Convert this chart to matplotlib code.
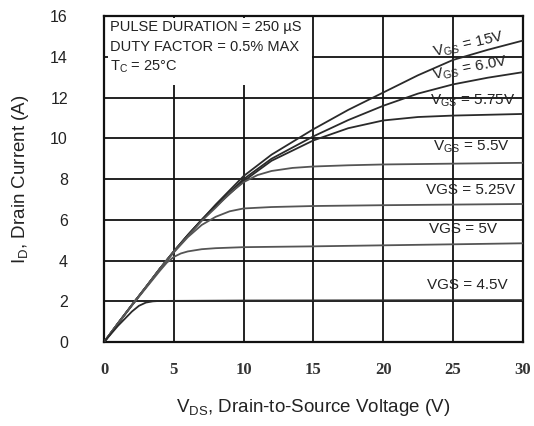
import matplotlib
matplotlib.use("Agg")
import matplotlib.pyplot as plt
from matplotlib.patches import Rectangle

# ---- data ----
v_15 = [0, 1, 2, 3, 4, 5, 6, 7, 8, 10, 12, 15, 17.5, 20, 22.5, 25, 27.5, 30]
i_15 = [0, 0.92, 1.82, 2.7, 3.6, 4.45, 5.25, 6.0, 6.75, 8.15, 9.2, 10.45, 11.4, 12.25, 13.1, 13.85, 14.35, 14.8]

v_60 = [0, 1, 2, 3, 4, 5, 6, 7, 8, 10, 12, 15, 17.5, 20, 22.5, 25, 27.5, 30]
i_60 = [0, 0.92, 1.82, 2.7, 3.6, 4.45, 5.25, 6.0, 6.7, 8.0, 9.0, 10.1, 10.9, 11.6, 12.2, 12.65, 12.98, 13.25]

v_575 = [0, 1, 2, 3, 4, 5, 6, 7, 8, 10, 12, 15, 17.5, 20, 22.5, 25, 27.5, 30]
i_575 = [0, 0.92, 1.82, 2.7, 3.6, 4.45, 5.25, 6.0, 6.65, 7.9, 8.9, 9.9, 10.5, 10.88, 11.05, 11.12, 11.16, 11.2]

v_55 = [0, 1, 2, 3, 4, 5, 6, 7, 8, 9, 10, 11, 12, 13.5, 15, 17.5, 20, 25, 30]
i_55 = [0, 0.92, 1.82, 2.7, 3.6, 4.45, 5.2, 5.95, 6.6, 7.3, 7.85, 8.2, 8.4, 8.55, 8.62, 8.68, 8.72, 8.76, 8.8]

v_525 = [0, 1, 2, 3, 4, 5, 6, 7, 8, 9, 10, 12, 15, 20, 25, 30]
i_525 = [0, 0.92, 1.82, 2.7, 3.6, 4.4, 5.15, 5.75, 6.15, 6.42, 6.56, 6.63, 6.68, 6.72, 6.75, 6.78]

v_50 = [0, 1, 2, 3, 4, 4.5, 5, 5.5, 6, 7, 8, 10, 15, 20, 25, 30]
i_50 = [0, 0.9, 1.8, 2.65, 3.5, 3.9, 4.18, 4.35, 4.45, 4.56, 4.61, 4.66, 4.7, 4.75, 4.8, 4.85]

v_45 = [0, 1, 1.5, 2, 2.5, 3, 3.5, 4, 10, 20, 30]
i_45 = [0, 0.8, 1.15, 1.5, 1.78, 1.94, 2.0, 2.02, 2.04, 2.05, 2.06]

x_ticks = [0, 5, 10, 15, 20, 25, 30]
y_ticks = [0, 2, 4, 6, 8, 10, 12, 14, 16]

fig = plt.figure(figsize=(5.34, 4.26), dpi=100)
ax = fig.add_axes([0.1948, 0.197, 0.784, 0.765])
ax.set_xlim(0, 30)
ax.set_ylim(0, 16)

# grid
for xv in x_ticks[1:-1]:
    ax.axvline(xv, color="#111111", lw=1.3, zorder=1)
for yv in y_ticks[1:-1]:
    ax.axhline(yv, color="#111111", lw=1.3, zorder=1)

# white box behind the conditions text (grid stubs remain visible)
ax.add_patch(Rectangle((0.25, 12.6), 14.65, 3.3, facecolor="white",
                       edgecolor="none", zorder=2))

dark = "#2a2a2a"
mid = "#555555"
ax.plot(v_15, i_15, color=dark, lw=1.3, zorder=3)
ax.plot(v_60, i_60, color=dark, lw=1.3, zorder=3)
ax.plot(v_575, i_575, color=dark, lw=1.3, zorder=3)
ax.plot(v_55, i_55, color=mid, lw=1.3, zorder=3)
ax.plot(v_525, i_525, color=mid, lw=1.3, zorder=3)
ax.plot(v_50, i_50, color=mid, lw=1.3, zorder=3)
ax.plot(v_45, i_45, color=dark, lw=1.3, zorder=3)

for s in ax.spines.values():
    s.set_linewidth(1.6)
    s.set_color("#111111")

ax.set_xticks(x_ticks)
ax.set_yticks(y_ticks)
ax.tick_params(length=0)
ax.set_xticklabels([str(t) for t in x_ticks], family="Liberation Serif",
                   fontsize=12, fontweight="bold", color="#333333")
ax.set_yticklabels([str(t) for t in y_ticks], family="Liberation Sans",
                   fontsize=11.5, color="#222222")
ax.tick_params(axis="y", pad=26)
ax.tick_params(axis="x", pad=14)

ax.set_xlabel(r"V$_{\mathregular{DS}}$, Drain-to-Source Voltage (V)",
              family="Liberation Sans", fontsize=13.5, color="#222222", labelpad=14)
ax.set_ylabel(r"I$_{\mathregular{D}}$, Drain Current (A)",
              family="Liberation Sans", fontsize=13.5, color="#222222", labelpad=14)

tk = dict(family="Liberation Sans", fontsize=10.5, color="#222222", zorder=4)
ax.text(0.4, 15.8, "PULSE DURATION = 250 µS", va="top", ha="left", **tk)
ax.text(0.4, 14.85, "DUTY FACTOR = 0.5% MAX", va="top", ha="left", **tk)
ax.text(0.4, 13.95, r"T$_{\mathregular{C}}$ = 25°C", va="top", ha="left", **tk)

lk = dict(family="Liberation Sans", fontsize=11, color="#222222",
          ha="center", va="center", zorder=4)
ax.text(26.1, 14.6, r"V$_{\mathregular{GS}}$ = 15V", rotation=13, **lk)
ax.text(26.2, 13.45, r"V$_{\mathregular{GS}}$ = 6.0V", rotation=11, **lk)
ax.text(26.4, 11.85, r"V$_{\mathregular{GS}}$ = 5.75V", **lk)
ax.text(26.3, 9.6, r"V$_{\mathregular{GS}}$ = 5.5V", **lk)
ax.text(26.3, 7.45, "VGS = 5.25V", **lk)
ax.text(25.7, 5.55, "VGS = 5V", **lk)
ax.text(26.0, 2.8, "VGS = 4.5V", **lk)

fig.savefig("out.png", dpi=100)
